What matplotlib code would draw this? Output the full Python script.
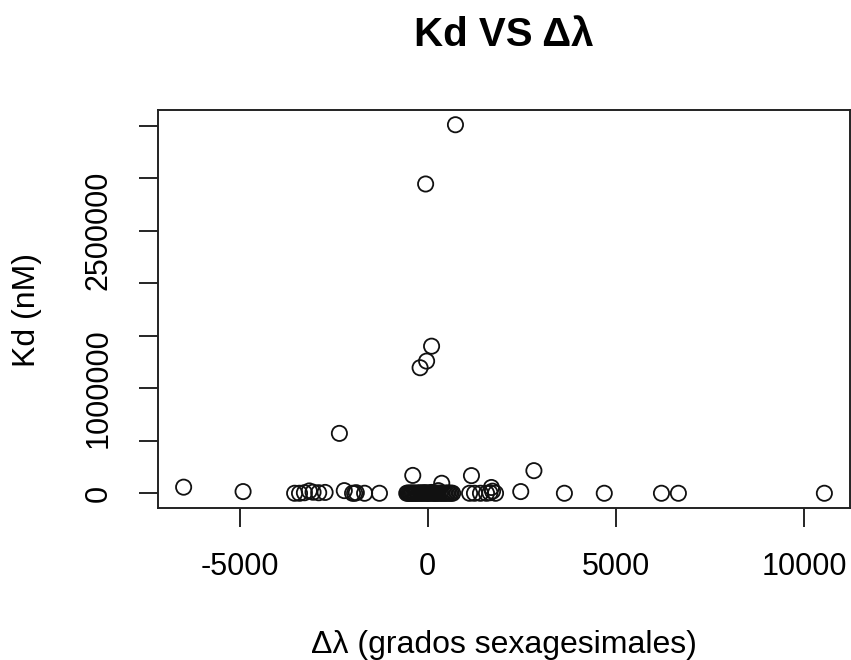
import numpy as np
import matplotlib
matplotlib.use("Agg")
import matplotlib.pyplot as plt

plt.rcParams["font.family"] = ["Liberation Sans", "DejaVu Sans"]

# puntos aislados
delta_lambda = [-6490, -4910, -3540, -3410, -3280, -3150, -3050, -2900, -2730,
                -2350, -2220, -2000, -1946, -1900, -1680, -1285,
                -400, -205, -32, 100, -58, 735, 370, 1160, 2820, 2470, 1690,
                3630, 4690, 6210, 6660, 10540]
kd = [58000, 16000, 0, 0, 5000, 22000, 10000, 5000, 8000,
      570000, 25000, 0, 0, 5000, 0, 0,
      170000, 1195000, 1258000, 1400000, 2944000, 3508000, 95000, 168000, 215000, 16000, 55000,
      0, 0, 0, 0, 0]

# grupo denso cerca de 0
delta_lambda_c = [-560, -530, -500, -470, -440, -410, -380, -350, -320, -290,
                  -260, -230, -200, -170, -140, -110, -80, -50, -20, 10,
                  40, 70, 100, 130, 160, 190, 220, 250, 280, 310,
                  340, 380, 420, 460, 500, 540, 580, 620, 660,
                  1110, 1240, 1400, 1560, 1650, 1720, 1800]
kd_c = [0, 2000, 0, 1000, 0, 3000, 0, 500, 0, 2000,
        0, 1000, 4000, 0, 2000, 0, 6000, 0, 1000, 0,
        3000, 0, 8000, 0, 2000, 0, 1000, 0, 25000, 0,
        2000, 0, 1000, 0, 0, 3000, 0, 1000, 0,
        0, 0, 0, 0, 5000, 20000, 0]

x = delta_lambda + delta_lambda_c
y = kd + kd_c

fig = plt.figure(figsize=(8.51, 6.60), dpi=100)
ax = fig.add_axes([158/851, 1-508/660, (850-158)/851, (508-110)/660])

ax.scatter(x, y, s=120, facecolors="none", edgecolors="#111111", linewidths=1.3)

xmin, xmax = min(x), max(x)
ymin, ymax = min(y), max(y)
dx = (xmax - xmin) * 0.04
dy = (ymax - ymin) * 0.04
ax.set_xlim(xmin - dx, xmax + dx)
ax.set_ylim(ymin - dy, ymax + dy)

ax.set_xticks([-5000, 0, 5000, 10000])
ax.set_xticklabels(["-5000", "0", "5000", "10000"])
yt = np.arange(0, 3500001, 500000)
ax.set_yticks(yt)
ax.set_yticklabels(["0", "", "1000000", "", "", "2500000", "", ""])

ax.tick_params(direction="out", length=14, width=1.2, labelsize=22, pad=18)
for lbl in ax.get_yticklabels():
    lbl.set_rotation(90)
    lbl.set_va("center")
for sp in ax.spines.values():
    sp.set_linewidth(1.4)
    sp.set_color("#222222")

fig.text(504/851, 1-46/660, "Kd VS Δλ", fontsize=29, fontweight="bold",
         ha="center", va="baseline")
fig.text(504/851, 1-653/660, "Δλ (grados sexagesimales)", fontsize=23,
         ha="center", va="baseline")
fig.text(27/851, 1-310/660, "Kd (nM)", fontsize=23, rotation=90,
         ha="center", va="center")

plt.savefig("out.png", dpi=100)
